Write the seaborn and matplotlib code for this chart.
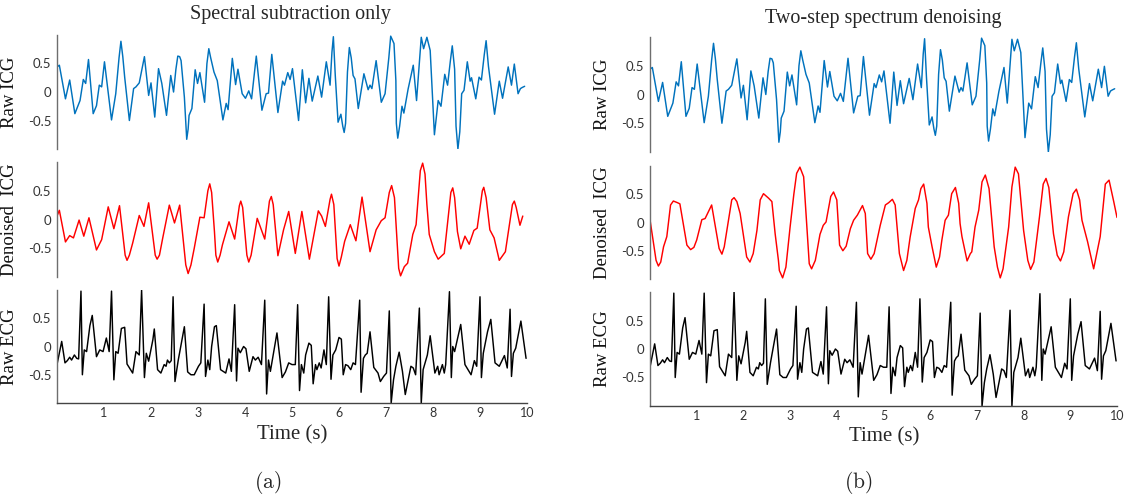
import matplotlib
matplotlib.use("Agg")
import matplotlib.pyplot as plt
import seaborn as sns
import pandas as pd

# ---------------- data ----------------
icg_t = [0.00,0.05,0.18,0.27,0.38,0.49,0.56,0.61,0.67,0.77,0.84,0.90,0.95,1.01,1.16,1.25,1.36,1.44,1.54,1.63,1.68,1.75,1.86,1.95,2.00,2.08,2.16,2.23,2.33,2.42,2.48,2.57,2.64,2.71,2.76,2.81,2.87,2.94,2.99,3.04,3.14,3.23,3.34,3.41,3.53,3.60,3.64,3.73,3.80,3.85,3.94,4.01,4.08,4.14,4.24,4.36,4.45,4.50,4.57,4.70,4.80,4.84,4.91,4.96,5.01,5.14,5.22,5.29,5.36,5.43,5.55,5.63,5.73,5.81,5.88,5.98,6.04,6.11,6.22,6.30,6.34,6.41,6.53,6.62,6.66,6.70,6.79,6.90,6.98,7.10,7.17,7.25,7.34,7.38,7.47,7.58,7.65,7.75,7.80,7.87,7.94,8.03,8.11,8.17,8.25,8.31,8.41,8.53,8.61,8.66,8.73,8.79,8.82,8.91,8.98,9.03,9.13,9.31,9.41,9.48,9.60,9.67,9.73,9.81,9.86,9.90,9.95]
icg_v = [0.44,0.47,-0.12,0.21,-0.38,-0.15,0.22,0.15,0.57,-0.38,-0.24,0.12,0.09,0.53,-0.49,-0.03,0.89,0.26,-0.50,0.06,0.09,0.16,0.62,-0.06,0.16,-0.44,0.41,0.15,-0.41,0.29,0.00,0.63,0.55,-0.09,-0.83,-0.41,-0.29,0.39,0.15,0.34,-0.18,0.76,0.35,0.20,-0.49,-0.20,-0.31,0.59,0.13,0.40,-0.03,-0.11,0.02,-0.12,0.63,-0.32,-0.03,-0.02,0.66,-0.36,0.19,0.12,0.34,0.22,0.41,-0.50,0.39,-0.19,0.24,-0.16,0.28,-0.09,0.53,0.12,0.97,-0.53,-0.39,-0.71,0.78,0.29,0.23,-0.29,0.32,0.04,0.12,0.06,0.55,-0.18,-0.03,0.98,0.85,-0.81,-0.25,-0.37,0.05,0.47,-0.15,0.96,0.76,0.96,0.73,-0.75,-0.15,-0.25,0.31,0.12,0.81,-1.00,-0.03,0.03,0.53,0.19,0.25,-0.12,0.26,0.21,0.90,-0.39,0.19,-0.11,0.44,0.12,0.49,-0.03,0.06,0.08,0.10]
icg_flank_t = [1.32,1.40,2.53,2.61,3.19,3.27,5.85,5.92,6.18,6.26,7.06,7.21,8.37,8.46,8.49,8.57,9.09,9.18,2.74,2.79,7.22,7.29,6.08,6.14]
icg_flank_v = [0.60,0.62,0.40,0.62,0.50,0.60,0.70,0.30,0.35,0.60,0.60,0.20,0.55,0.40,-0.60,-0.70,0.65,0.45,-0.55,-0.65,-0.55,-0.60,-0.60,-0.55]

den_a_t = [0.00,0.05,0.18,0.27,0.35,0.47,0.57,0.68,0.84,0.95,1.09,1.21,1.33,1.49,1.61,1.75,1.85,1.95,2.13,2.25,2.39,2.50,2.61,2.79,2.92,3.04,3.13,3.25,3.42,3.52,3.66,3.78,3.91,4.08,4.26,4.42,4.56,4.70,4.82,4.93,5.07,5.21,5.37,5.56,5.63,5.71,5.84,6.00,6.12,6.24,6.36,6.49,6.66,6.79,6.90,6.98,7.12,7.31,7.39,7.46,7.57,7.64,7.78,7.92,8.11,8.24,8.42,8.59,8.68,8.77,8.87,8.94,9.08,9.21,9.30,9.41,9.54,9.73,9.85,9.91]
den_a_v = [0.06,0.16,-0.39,-0.28,-0.32,-0.01,-0.29,0.03,-0.53,-0.35,0.22,-0.16,0.24,-0.71,-0.41,0.07,-0.12,0.29,-0.69,-0.32,0.25,-0.06,0.25,-0.94,-0.50,0.04,0.03,0.62,-0.74,-0.44,-0.04,-0.34,0.32,-0.74,0.02,-0.34,0.40,-0.63,-0.18,0.14,-0.59,0.14,-0.69,0.15,0.06,-0.12,0.44,-0.81,-0.38,-0.09,-0.37,0.39,-0.56,-0.18,-0.02,0.03,0.59,-0.98,-0.82,-0.76,-0.26,-0.09,0.98,-0.26,-0.69,-0.59,0.55,-0.51,-0.29,-0.43,-0.19,-0.15,0.56,-0.18,-0.32,-0.71,-0.56,0.32,-0.10,0.06]
den_a_flank_t = [7.73,7.83,7.87,7.27,7.36,7.07,7.18,7.24,5.96,6.05,5.81,5.89,8.38,8.46,8.52,9.05,9.13,8.03,9.69,9.77,3.21,3.29,3.35,2.74,2.85,2.09,2.18,1.45,1.54,3.38,3.47,4.04,4.13,3.88,3.95,4.52,4.60]
den_a_flank_v = [0.85,0.79,0.26,-0.85,-0.88,0.47,0.38,-0.44,-0.68,-0.65,0.35,0.26,0.47,0.38,-0.21,0.50,0.38,-0.56,0.26,0.21,0.50,0.47,-0.21,-0.79,-0.79,-0.62,-0.62,-0.62,-0.62,-0.62,-0.62,-0.62,-0.62,0.24,0.21,0.32,0.26]

den_b_t = [0.00,0.18,0.29,0.36,0.50,0.59,0.64,0.87,1.00,1.11,1.18,1.32,1.54,1.64,1.80,1.93,2.14,2.29,2.43,2.54,2.61,2.84,3.00,3.21,3.46,3.64,3.71,3.77,3.93,4.13,4.29,4.36,4.44,4.55,4.73,4.93,5.04,5.11,5.19,5.25,5.43,5.57,5.68,5.75,5.86,5.96,6.13,6.25,6.32,6.39,6.54,6.64,6.79,6.89,7.04,7.18,7.50,7.82,8.15,8.48,8.79,8.93,9.13,9.25,9.37,9.50,9.64,9.83,9.93,10.00]
den_b_v = [0.05,-0.77,-0.43,-0.25,0.38,0.35,0.33,-0.48,-0.31,0.05,0.07,0.31,-0.56,-0.17,0.44,0.16,-0.70,-0.14,0.51,0.43,0.37,-0.98,-0.08,0.98,-0.82,-0.21,-0.05,0.01,0.54,-0.50,-0.11,0.04,0.13,0.30,-0.65,-0.05,0.31,0.35,0.41,0.31,-0.85,-0.26,0.25,0.40,0.68,-0.08,-0.79,-0.31,0.04,0.13,0.62,-0.02,-0.68,-0.52,0.22,0.84,-0.98,0.98,-0.83,0.78,-0.68,-0.08,0.59,0.04,-0.34,-0.82,-0.25,0.75,0.37,0.09]
den_b_flank_t = [7.11,7.26,7.37,7.44,7.56,7.68,7.75,7.89,8.00,8.09,8.22,8.34,8.42,8.54,8.64,8.72,8.86,8.96,9.06,9.20,9.75,6.46,6.61,6.68,6.86,6.96,5.80,5.93,6.04,6.20,5.34,5.50,3.14,3.29,3.36,3.41,3.54,2.77,2.91,3.08,2.36,2.68,2.75,2.07,2.21,1.75,1.86,1.48,1.59,0.13,0.23,0.79,0.94,0.44,4.06,4.20,3.87,4.00,4.66,4.80,4.61]
den_b_flank_v = [0.72,0.60,-0.43,-0.79,-0.82,-0.08,0.63,0.86,-0.14,-0.67,-0.70,0.10,0.68,0.62,-0.20,-0.58,-0.52,0.10,0.51,0.40,0.68,0.51,0.34,-0.25,-0.55,-0.08,0.60,0.34,-0.43,-0.61,-0.55,-0.67,0.87,0.81,-0.08,-0.73,-0.67,-0.85,-0.79,0.50,0.40,-0.20,-0.67,-0.61,-0.55,0.40,0.37,-0.46,-0.43,-0.67,-0.70,-0.40,-0.44,0.31,-0.40,-0.42,0.46,0.40,-0.55,-0.55,0.16]

ecg_t = [0.00,0.10,0.17,0.22,0.27,0.31,0.37,0.42,0.46,0.51,0.54,0.58,0.63,0.70,0.75,0.84,0.91,0.98,1.05,1.11,1.16,1.21,1.25,1.30,1.37,1.44,1.49,1.61,1.68,1.75,1.80,1.86,1.90,1.95,2.04,2.07,2.14,2.21,2.28,2.32,2.35,2.39,2.43,2.47,2.51,2.58,2.71,2.78,2.85,2.92,3.01,3.06,3.13,3.16,3.21,3.25,3.29,3.35,3.39,3.48,3.59,3.66,3.71,3.78,3.82,3.85,3.90,3.97,4.02,4.09,4.17,4.22,4.28,4.35,4.42,4.46,4.50,4.54,4.68,4.79,4.86,4.93,5.00,5.07,5.12,5.16,5.20,5.25,5.29,5.36,5.41,5.45,5.50,5.53,5.58,5.62,5.68,5.73,5.78,5.83,5.87,5.93,6.00,6.05,6.09,6.14,6.19,6.25,6.30,6.35,6.44,6.47,6.52,6.56,6.60,6.66,6.74,6.83,6.88,6.95,7.01,7.07,7.11,7.16,7.21,7.28,7.35,7.41,7.48,7.53,7.58,7.63,7.71,7.75,7.79,7.88,7.94,8.04,8.10,8.13,8.20,8.24,8.27,8.35,8.39,8.42,8.46,8.59,8.68,8.81,8.88,8.93,9.00,9.03,9.07,9.16,9.23,9.32,9.41,9.52,9.58,9.64,9.67,9.71,9.76,9.87,9.98]
ecg_v = [-0.32,0.09,-0.29,-0.25,-0.19,-0.24,-0.15,-0.21,-0.22,0.98,-0.50,-0.06,-0.09,0.37,0.55,-0.18,-0.06,-0.09,0.15,-0.09,0.98,-0.59,-0.09,-0.12,0.32,0.34,-0.31,-0.47,-0.09,-0.15,1.00,-0.55,-0.12,-0.26,0.12,0.31,-0.41,-0.47,-0.32,-0.35,-0.24,-0.29,-0.25,0.88,-0.62,-0.24,0.35,-0.45,-0.50,-0.50,-0.35,-0.29,0.75,-0.53,-0.24,-0.41,0.00,0.35,0.37,-0.41,-0.47,-0.22,-0.44,0.74,-0.61,-0.03,-0.11,0.00,-0.04,-0.44,-0.18,-0.24,-0.19,-0.32,0.82,-0.84,-0.24,-0.44,0.24,-0.55,-0.45,-0.29,-0.32,-0.32,0.74,-0.78,-0.32,-0.47,-0.15,0.06,0.02,-0.66,-0.32,-0.41,-0.29,-0.38,-0.06,-0.32,0.88,-0.58,-0.15,-0.06,0.16,0.13,-0.50,-0.32,-0.34,-0.41,-0.29,-0.32,0.82,-0.81,-0.21,-0.15,-0.12,0.26,-0.37,-0.47,-0.62,-0.53,-0.47,0.63,-1.00,-0.59,-0.35,-0.10,-0.44,-0.85,-0.56,-0.35,-0.38,-0.50,0.68,-1.00,-0.41,-0.15,0.19,-0.47,-0.35,-0.50,-0.32,-0.47,-0.32,0.97,-0.55,0.00,-0.09,0.39,-0.32,-0.50,-0.25,-0.35,0.88,-0.55,-0.12,0.26,0.48,-0.29,-0.35,-0.16,-0.38,0.66,-0.53,-0.12,-0.03,0.45,-0.21]

row_labels = ["Raw ICG", "Denoised  ICG", "Raw ECG"]
titles = ["Spectral subtraction only", "Two-step spectrum denoising"]
panel_tags = ["(a)", "(b)"]
x_ticks = [1, 2, 3, 4, 5, 6, 7, 8, 9, 10]
y_ticks = [-0.5, 0, 0.5]
y_tick_labels = ["-0.5", "0", "0.5"]


def frame(t, v, ft=(), fv=()):
    df = pd.DataFrame({"t": list(t) + list(ft), "v": list(v) + list(fv)})
    return df.sort_values("t").reset_index(drop=True)


icg_df = frame(icg_t, icg_v, icg_flank_t, icg_flank_v)
den_a_df = frame(den_a_t, den_a_v, den_a_flank_t, den_a_flank_v)
den_b_df = frame(den_b_t, den_b_v, den_b_flank_t, den_b_flank_v)
ecg_df = frame(ecg_t, ecg_v)

# ---------------- style ----------------
sns.set_style("white")
plt.rcParams["font.family"] = ["Lato", "DejaVu Sans"]
plt.rcParams["mathtext.fontset"] = "cm"

W, H = 1128, 500
fig = plt.figure(figsize=(W / 100, H / 100), dpi=100)

SERIF = "Liberation Serif"
BLUE, RED, BLACK = "#0072BD", "#FF0000", "#000000"
SPINE = "#6e6e6e"

cols = [(57, 527), (650, 1117)]
rows = [
    [(35, 149), (162, 277), (290, 403)],
    [(37, 152), (166, 279), (292, 406)],
]

series = [
    [(icg_df, BLUE), (den_a_df, RED), (ecg_df, BLACK)],
    [(icg_df, BLUE), (den_b_df, RED), (ecg_df, BLACK)],
]

for c in range(2):
    x0, x1 = cols[c]
    for r in range(3):
        top, bot = rows[c][r]
        ax = fig.add_axes([x0 / W, 1 - bot / H, (x1 - x0) / W, (bot - top) / H])
        df, col = series[c][r]
        sns.lineplot(data=df, x="t", y="v", ax=ax, color=col, lw=1.05,
                     estimator=None, sort=False, legend=False)
        ax.set_xlim(0, 10)
        ax.set_ylim(-1.0, 1.0)
        ax.set_facecolor("none")
        for s in ["top", "right"]:
            ax.spines[s].set_visible(False)
        ax.spines["left"].set_color(SPINE)
        ax.spines["left"].set_linewidth(1.0)
        ax.set_yticks(y_ticks)
        ax.set_yticklabels(y_tick_labels)
        ax.set_yticks([-1.0, 1.0], minor=True)
        ax.tick_params(axis="y", which="major", length=0, pad=4,
                       labelsize=9.5, labelcolor="#333333")
        ax.tick_params(axis="y", which="minor", direction="in", length=4,
                       width=1.0, color=SPINE)
        ax.set_ylabel(row_labels[r], fontfamily=SERIF, fontsize=13.5,
                      color="#111111")
        ax.yaxis.set_label_coords(-0.083, 0.5)
        if r < 2:
            ax.spines["bottom"].set_visible(False)
            ax.set_xticks([])
            ax.set_xlabel("")
        else:
            ax.spines["bottom"].set_color("#444444")
            ax.spines["bottom"].set_linewidth(1.0)
            ax.set_xticks(x_ticks)
            ax.set_xticklabels([str(k) for k in x_ticks])
            ax.tick_params(axis="x", direction="in", length=3.5, width=0.9,
                           color="#444444", labelsize=9, labelcolor="#333333", pad=3)
            ax.set_xlabel("")

fig.text(290 / W, 1 - 15 / H, titles[0], ha="center", va="center",
         fontfamily=SERIF, fontsize=14.5)
fig.text(883 / W, 1 - 18 / H, titles[1], ha="center", va="center",
         fontfamily=SERIF, fontsize=14.5)
fig.text(292 / W, 1 - 435 / H, "Time (s)", ha="center", va="center",
         fontfamily=SERIF, fontsize=15)
fig.text(884 / W, 1 - 437 / H, "Time (s)", ha="center", va="center",
         fontfamily=SERIF, fontsize=15)
fig.text(268 / W, 1 - 483 / H, r"$(\mathrm{a})$", ha="center", va="center",
         fontsize=15.5)
fig.text(858 / W, 1 - 483 / H, r"$(\mathrm{b})$", ha="center", va="center",
         fontsize=15.5)

fig.savefig("out.png", dpi=100, facecolor="white")
